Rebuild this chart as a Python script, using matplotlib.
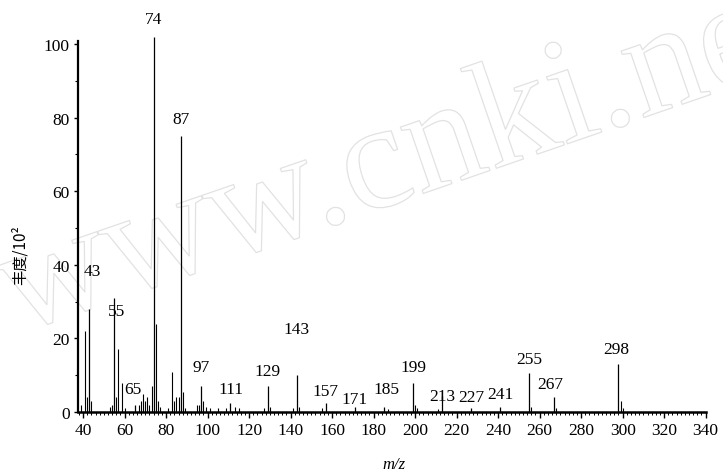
import matplotlib
matplotlib.use("Agg")
import matplotlib.pyplot as plt
import matplotlib.patheffects as pe

# ---- data (m/z, relative intensity) ----
labeled_mz = [43, 55, 65, 74, 87, 97, 111, 129, 143, 157, 171, 185, 199, 213, 227, 241, 255, 267, 298]
labeled_int = [28, 31, 2, 102, 75, 7, 2.5, 7, 10, 2.5, 1.5, 1.5, 8, 4.5, 1, 1.5, 10.5, 4, 13]

minor_mz = [39, 41, 42, 44, 53, 54, 56, 57, 59, 60, 67, 68, 69, 70, 71, 72, 73, 75, 76, 77,
            81, 83, 84, 85, 86, 88, 89, 95, 96, 98, 99, 101, 105, 109, 113, 115, 127, 130,
            141, 144, 155, 187, 200, 201, 211, 256, 268, 299, 300]
minor_int = [2, 22, 4, 3, 1.5, 2, 4, 17, 8, 1, 2, 3, 5, 3, 4, 2, 7, 24, 3, 1.5,
             1, 11, 3, 4, 4, 5.5, 1, 2, 2, 3, 1.5, 1, 1, 1, 1.5, 1, 1, 1.5,
             1, 1.5, 1, 0.8, 2, 1, 0.8, 1.5, 1, 3, 1]

x_ticks = list(range(40, 341, 20))
y_ticks = [0, 20, 40, 60, 80, 100]

# label y-positions (layout)
label_y = [38.3, 27.4, 6.3, 106.8, 79.6, 12.2, 6.3, 11.1, 22.6, 5.7, 3.5, 6.3, 12.2, 4.3, 4.1, 4.9, 14.4, 7.6, 17.1]
label_dx = [1.5, 1, -1, 0, 0, 0, 0.5, 0, 0, 0, 0, 1, 0, 0, 0, 0, 0, -2, -1]

plt.rcParams['font.family'] = ['Liberation Serif', 'Noto Sans CJK SC', 'DejaVu Sans']

fig = plt.figure(figsize=(7.23, 4.77), dpi=100)
ax = fig.add_axes([0.108, 0.134, 0.868, 0.778])
ax.set_zorder(2)

# faint outlined watermark (behind everything)
fig.text(0.56, 0.66, "www.cnki.net", fontsize=110, rotation=19, ha='center', va='center',
         color=(1, 1, 1, 0), family='Liberation Serif', zorder=-5,
         path_effects=[pe.Stroke(linewidth=0.9, foreground='#e2e2e2')])

ax.vlines(minor_mz, 0, minor_int, colors='black', linewidth=0.8, zorder=3)
ax.vlines(labeled_mz, 0, labeled_int, colors='black', linewidth=0.9, zorder=3, clip_on=False)

for mz, yl, dx in zip(labeled_mz, label_y, label_dx):
    ax.text(mz + dx, yl, str(mz), ha='center', va='center', fontsize=12.5, zorder=4, clip_on=False)

ax.set_xlim(37.6, 340)
ax.set_ylim(0, 100.8)
ax.set_xticks(x_ticks)
ax.set_yticks(y_ticks)
ax.set_xticks(range(38, 341, 2), minor=True)
ax.set_yticks(range(10, 101, 20), minor=True)
ax.tick_params(axis='x', which='major', direction='out', length=4, width=1, labelsize=12.5, pad=3)
ax.tick_params(axis='x', which='minor', direction='out', length=2.5, width=0.7)
ax.tick_params(axis='y', which='major', direction='out', length=3, width=1, labelsize=12.5, pad=3)
ax.tick_params(axis='y', which='minor', direction='out', length=2, width=0.8)

for s in ['top', 'right']:
    ax.spines[s].set_visible(False)
ax.spines['left'].set_linewidth(1.6)
ax.spines['bottom'].set_linewidth(1.8)
ax.patch.set_alpha(0)

fig.text(0.028, 0.465, "丰度/10²", rotation=90, ha='center', va='center', fontsize=11,
         family=['Noto Sans CJK SC', 'DejaVu Sans'])
fig.text(0.545, 0.025, "m/z", ha='center', va='center', fontsize=12, style='italic')

fig.savefig("out.png", dpi=100)
